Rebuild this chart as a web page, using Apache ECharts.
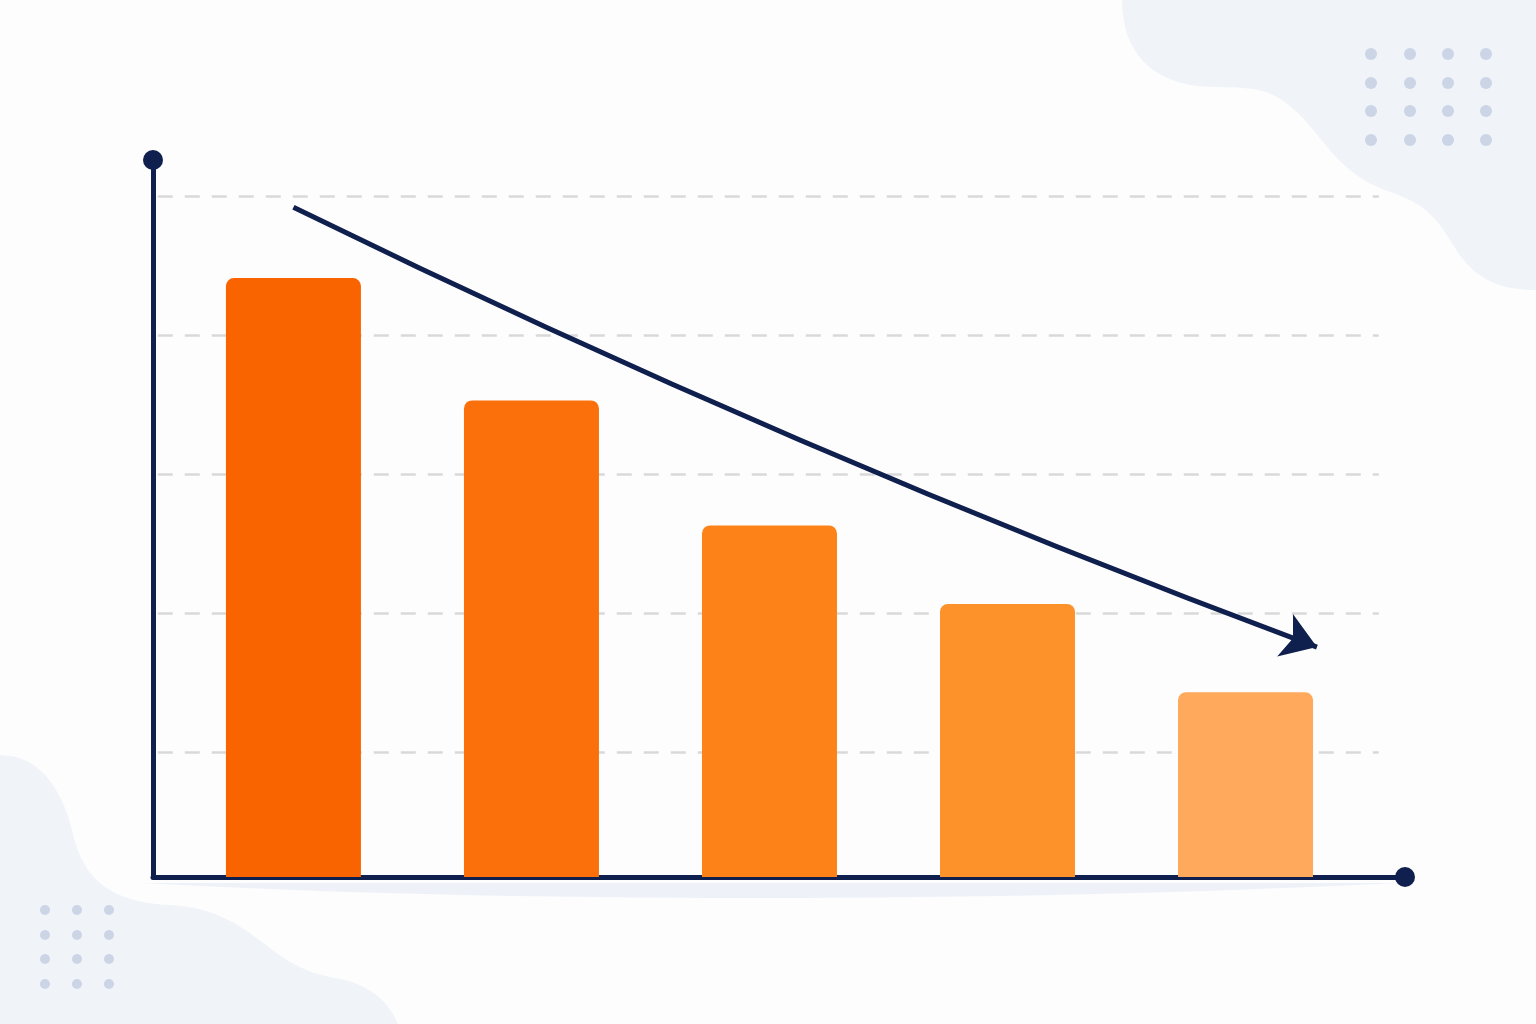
<!DOCTYPE html>
<html>
<head>
<meta charset="utf-8">
<title>Declining bars</title>
<script src="https://cdn.jsdelivr.net/npm/echarts@6/dist/echarts.min.js"></script>
<style>
  html, body { margin: 0; padding: 0; background: #fdfdfd; }
  #chart { width: 1536px; height: 1024px; }
</style>
</head>
<body>
<div id="chart"></div>
<script>
// data
const categories = ['1', '2', '3', '4', '5'];
const barValues = [86.2, 68.6, 50.6, 39.3, 26.6];
const gridValues = [18, 38, 58, 78, 98];
const trendStart = [0, 96.4];
const trendEnd = [4.3, 33.1];

const barColors = ['#fa6400', '#fb700a', '#fd8318', '#fd922b', '#fea95b'];
const navy = '#0f1f4e';

// background blobs as svg paths
echarts.graphic.registerShape('blobTopRight', echarts.graphic.extendPath(
  'M1122,0 C1122,50 1150,85 1210,87 C1250,88 1270,85 1300,115 C1325,140 1340,175 1390,192 C1425,204 1435,215 1455,248 C1475,280 1500,290 1536,290 L1536,0 Z'
));
echarts.graphic.registerShape('blobBottomLeft', echarts.graphic.extendPath(
  'M0,755 C40,755 62,790 72,830 C82,875 105,902 170,905 C215,907 240,925 270,948 C300,972 320,975 345,980 C375,988 390,1005 398,1024 L0,1024 Z'
));
echarts.graphic.registerShape('axisShadow', echarts.graphic.extendPath(
  'M142,883 L1400,883 C1000,903 500,903 142,883 Z'
));

// little dot grids in the corners
function dotGrid(xs, ys, r) {
  const out = [];
  xs.forEach(function (x) {
    ys.forEach(function (y) {
      out.push({
        type: 'circle',
        shape: { cx: x, cy: y, r: r },
        style: { fill: '#cbd5e6' },
        z: -1
      });
    });
  });
  return out;
}

const chart = echarts.init(document.getElementById('chart'));

const option = {
  backgroundColor: '#fdfdfd',
  animation: false,
  graphic: [
    { type: 'blobTopRight', style: { fill: '#f0f4f9' }, z: -2 },
    { type: 'blobBottomLeft', style: { fill: '#f0f4f9' }, z: -2 },
    { type: 'axisShadow', style: { fill: '#eef2f8' }, z: -2 }
  ].concat(dotGrid([1371, 1410, 1448, 1486], [54, 83, 111, 140], 6))
   .concat(dotGrid([45, 77, 109], [910, 935, 959, 984], 5)),
  grid: {
    left: 153,
    right: 131,
    top: 160,
    bottom: 147
  },
  xAxis: {
    type: 'value',
    min: -0.59,
    max: 4.67,
    axisLine: {
      onZero: false,
      symbol: ['none', 'circle'],
      symbolSize: [20, 20],
      lineStyle: { color: navy, width: 5 }
    },
    axisTick: { show: false },
    axisLabel: { show: false },
    splitLine: { show: false }
  },
  yAxis: {
    type: 'value',
    min: 0,
    max: 103.2,
    axisLine: {
      show: true,
      onZero: false,
      symbol: ['none', 'circle'],
      symbolSize: [20, 20],
      lineStyle: { color: navy, width: 5 }
    },
    axisTick: { show: false },
    axisLabel: { show: false },
    splitLine: { show: false }
  },
  series: [
    {
      // dashed guide lines, kept behind the bars
      type: 'line',
      data: [],
      z: 1,
      markLine: {
        silent: true,
        z: 1,
        symbol: 'none',
        label: { show: false },
        lineStyle: { color: '#d9d9d9', width: 2.5, type: [15, 12] },
        data: gridValues.map(function (v) {
          return [{ coord: [-0.57, v] }, { coord: [4.56, v] }];
        })
      }
    },
    {
      name: 'value',
      type: 'bar',
      z: 3,
      barWidth: 135,
      data: barValues.map(function (v, i) {
        return {
          name: categories[i],
          value: [i, v],
          itemStyle: { color: barColors[i], borderRadius: [8, 8, 0, 0] }
        };
      })
    },
    {
      // trend arrow, slightly bowed
      type: 'lines',
      coordinateSystem: 'cartesian2d',
      z: 4,
      silent: true,
      symbol: ['none', 'arrow'],
      symbolSize: [28, 34],
      lineStyle: { color: navy, width: 5, opacity: 1, curveness: -0.025 },
      data: [{ coords: [trendStart, trendEnd] }]
    }
  ]
};

chart.setOption(option);
</script>
</body>
</html>
